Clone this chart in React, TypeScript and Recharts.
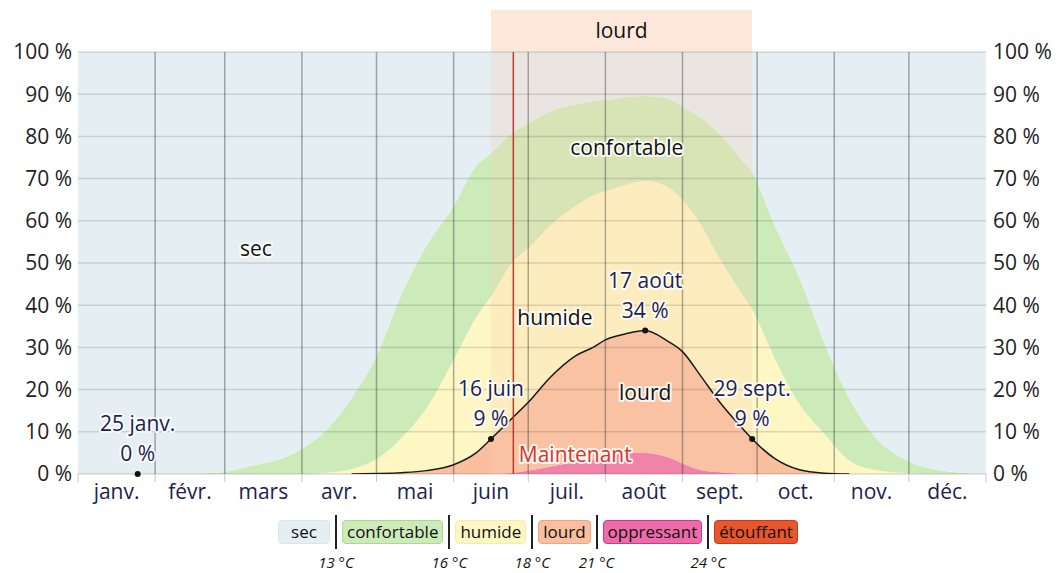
import React from "react";
import {
  ComposedChart,
  Area,
  Line,
  XAxis,
  YAxis,
  ReferenceLine,
  ReferenceArea,
  ReferenceDot,
} from "recharts";

// day of year (0 = 1 janv.)
const days = [0, 15, 31, 45, 59, 70, 80, 90, 100, 110, 120, 130, 140, 151, 160, 166, 175, 181, 190, 200, 207, 212, 220, 228, 237, 243, 250, 258, 266, 271, 280, 290, 300, 310, 320, 334, 345, 365];

// cumulative upper edge of each band, in %
const oppressantTop = [0, 0, 0, 0, 0, 0, 0, 0, 0, 0, 0, 0, 0, 0, 0, 0, 0.3, 0.8, 1.8, 2.8, 3.5, 4, 5, 5, 4, 2.5, 1, 0.4, 0.1, 0, 0, 0, 0, 0, 0, 0, 0, 0];
const lourdTop = [0, 0, 0, 0, 0, 0, 0, 0, 0, 0, 0.1, 0.3, 0.8, 2.2, 5, 8.3, 13.5, 17, 23, 28, 30, 31.8, 33.2, 34, 31.5, 29, 23.5, 17, 11.5, 8.3, 3.7, 1, 0.2, 0, 0, 0, 0, 0];
const humideTop = [0, 0, 0, 0, 0, 0, 0, 0, 0.3, 1.2, 3.5, 8.5, 15.5, 27, 37, 42, 50.5, 53.5, 59, 63.5, 66, 67, 68.5, 69.5, 68, 65, 59.5, 51, 43.5, 39, 27.5, 16.5, 9.5, 3.2, 1, 0.2, 0, 0];
const confortableTop = [0, 0, 0, 0.1, 0.5, 2, 3.3, 6, 10.5, 18, 28, 42.5, 54, 63.5, 73, 76, 81, 83, 86, 87.5, 88.3, 88.6, 89.3, 89.6, 89, 87, 84.6, 80.5, 75, 71.5, 59, 46.5, 31, 18, 9, 3, 1, 0];

const monthNames = ["janv.", "févr.", "mars", "avr.", "mai", "juin", "juil.", "août", "sept.", "oct.", "nov.", "déc."];
const monthStarts = [0, 31, 59, 90, 120, 151, 181, 212, 243, 273, 304, 334, 365];
const percentTicks = [0, 10, 20, 30, 40, 50, 60, 70, 80, 90, 100];

const annotationDays = [24, 166, 228, 271];
const annotationValues = [0, 9, 34, 9];
const annotationDates = ["25 janv.", "16 juin", "17 août", "29 sept."];

const today = 175;
const seasonName = "lourd";

const legendNames = ["sec", "confortable", "humide", "lourd", "oppressant", "étouffant"];
const legendThresholds = ["13 °C", "16 °C", "18 °C", "21 °C", "24 °C"];

const COLORS: Record<string, string> = {
  sec: "#E5EEF2",
  confortable: "#CCEBB8",
  humide: "#FEF7C3",
  lourd: "#F9BF9F",
  oppressant: "#EE6BAA",
  étouffant: "#E9552D",
};
const LEGEND_BORDERS: Record<string, string> = {
  sec: "#DCE6EA",
  confortable: "#A9D993",
  humide: "#F4EDB0",
  lourd: "#EBA585",
  oppressant: "#C93A8C",
  étouffant: "#C23A1C",
};

const W = 1058;
const H = 573;
const PLOT_LEFT = 78;
const PLOT_RIGHT = 986;
const pxPerDay = (PLOT_RIGHT - PLOT_LEFT) / 365;
const FS = 21;

const data = days.map((day, i) => ({
  day,
  oppressant: oppressantTop[i],
  lourd: lourdTop[i] - oppressantTop[i],
  humide: humideTop[i] - lourdTop[i],
  confortable: confortableTop[i] - humideTop[i],
  sec: 100 - confortableTop[i],
  lourdLine:
    lourdTop[i] > 0 || lourdTop[i - 1] > 0 || lourdTop[i + 1] > 0 ? lourdTop[i] : null,
}));

const halo = {
  stroke: "#fff",
  strokeWidth: 4,
  strokeOpacity: 0.85,
  strokeLinejoin: "round" as const,
  paintOrder: "stroke" as const,
};

const MonthTick = (props: any) => {
  const { x, y, payload } = props;
  const i = monthStarts.indexOf(payload.value);
  if (i < 0 || i >= monthNames.length) return <g />;
  const half = ((monthStarts[i + 1] - monthStarts[i]) / 2) * pxPerDay;
  return (
    <text x={x + half} y={y} dy={15} textAnchor="middle" fontSize={FS} fill="#1f2150">
      {monthNames[i]}
    </text>
  );
};

const labelShape =
  (text: string, fill = "#111", anchor: "middle" | "start" = "middle") =>
  (p: any) => (
    <text
      x={p.cx}
      y={p.cy}
      textAnchor={anchor}
      dominantBaseline="central"
      fontSize={FS}
      fill={fill}
      {...halo}
    >
      {text}
    </text>
  );

const annotationShape = (date: string, value: number) => (p: any) => (
  <g>
    <text x={p.cx} y={p.cy - 51} textAnchor="middle" dominantBaseline="central" fontSize={FS} fill="#1b2150" {...halo}>
      {date}
    </text>
    <text x={p.cx} y={p.cy - 21} textAnchor="middle" dominantBaseline="central" fontSize={FS} fill="#1b2150" {...halo}>
      {`${value} %`}
    </text>
    <circle cx={p.cx} cy={p.cy} r={3} fill="#111" />
  </g>
);

function Legend() {
  return (
    <div
      style={{
        position: "absolute",
        left: 278,
        top: 515,
        display: "flex",
        alignItems: "center",
        fontSize: 17,
        color: "#111",
      }}
    >
      {legendNames.map((name, i) => (
        <React.Fragment key={name}>
          <div
            style={{
              height: 22,
              lineHeight: "22px",
              padding: "0 4px",
              minWidth: i === 0 ? 42 : undefined,
              textAlign: "center",
              background: COLORS[name],
              border: `1px solid ${LEGEND_BORDERS[name]}`,
              borderRadius: 4,
            }}
          >
            {name}
          </div>
          {i < legendThresholds.length && (
            <div style={{ position: "relative", width: 2, height: 34, background: "#222", margin: "0 5px" }}>
              <div
                style={{
                  position: "absolute",
                  top: 37,
                  left: 1,
                  transform: "translateX(-50%)",
                  whiteSpace: "nowrap",
                  fontSize: 15,
                  fontStyle: "italic",
                  color: "#111",
                }}
              >
                {legendThresholds[i]}
              </div>
            </div>
          )}
        </React.Fragment>
      ))}
    </div>
  );
}

export default function App() {
  return (
    <div
      style={{
        position: "absolute",
        left: 0,
        top: 0,
        width: W,
        height: H,
        background: "#fff",
        fontFamily: "'Open Sans', sans-serif",
      }}
    >
      <ComposedChart width={W} height={H} data={data} margin={{ top: 52, right: 0, bottom: 69, left: 0 }}>
        <XAxis
          dataKey="day"
          type="number"
          domain={[0, 365]}
          ticks={monthStarts}
          tick={<MonthTick />}
          tickSize={8}
          tickLine={{ stroke: "#c8c8c8" }}
          axisLine={false}
          height={30}
          allowDataOverflow
        />
        <YAxis
          yAxisId="left"
          orientation="left"
          domain={[0, 100]}
          ticks={percentTicks}
          tickFormatter={(v: number) => `${v} %`}
          width={PLOT_LEFT}
          axisLine={false}
          tickLine={false}
          tickSize={4}
          tick={{ fontSize: FS, fill: "#222" }}
          allowDataOverflow
        />
        <YAxis
          yAxisId="right"
          orientation="right"
          domain={[0, 100]}
          ticks={percentTicks}
          tickFormatter={(v: number) => `${v} %`}
          width={W - PLOT_RIGHT}
          axisLine={false}
          tickLine={false}
          tickSize={5}
          tick={{ fontSize: FS, fill: "#222", textAnchor: "start" }}
          allowDataOverflow
        />

        <Area yAxisId="left" type="monotone" dataKey="oppressant" stackId="h" stroke="none" fill={COLORS.oppressant} fillOpacity={1} isAnimationActive={false} activeDot={false} />
        <Area yAxisId="left" type="monotone" dataKey="lourd" stackId="h" stroke="none" fill={COLORS.lourd} fillOpacity={1} isAnimationActive={false} activeDot={false} />
        <Area yAxisId="left" type="monotone" dataKey="humide" stackId="h" stroke="none" fill={COLORS.humide} fillOpacity={1} isAnimationActive={false} activeDot={false} />
        <Area yAxisId="left" type="monotone" dataKey="confortable" stackId="h" stroke="none" fill={COLORS.confortable} fillOpacity={1} isAnimationActive={false} activeDot={false} />
        <Area yAxisId="left" type="monotone" dataKey="sec" stackId="h" stroke="none" fill={COLORS.sec} fillOpacity={1} isAnimationActive={false} activeDot={false} />
        <Line yAxisId="left" type="monotone" dataKey="lourdLine" stroke="#1a1a1a" strokeWidth={1.5} dot={false} activeDot={false} isAnimationActive={false} connectNulls={false} />

        {/* season band */}
        <ReferenceArea
          yAxisId="left"
          x1={annotationDays[1]}
          x2={annotationDays[3]}
          y1={0}
          y2={100}
          fill="rgb(250,205,175)"
          fillOpacity={0.25}
          stroke="none"
        />
        <ReferenceArea
          yAxisId="left"
          x1={annotationDays[1]}
          x2={annotationDays[3]}
          y1={100}
          y2={110}
          ifOverflow="visible"
          fill="#FDE8DB"
          fillOpacity={1}
          stroke="none"
          label={{ value: seasonName, position: "center", fontSize: FS, fill: "#111" }}
        />

        {/* grid drawn above the bands */}
        {percentTicks.map((v) => (
          <ReferenceLine key={`h${v}`} yAxisId="left" y={v} stroke="rgba(40,50,55,0.16)" strokeWidth={1.5} />
        ))}
        {monthStarts.slice(1, -1).map((d) => (
          <ReferenceLine key={`v${d}`} yAxisId="left" x={d} stroke="rgba(40,45,50,0.38)" strokeWidth={1.5} />
        ))}
        <ReferenceLine yAxisId="left" x={today} stroke="#C0392B" strokeWidth={1.5} />

        <ReferenceDot yAxisId="left" x={71.5} y={53.5} r={0} shape={labelShape("sec")} />
        <ReferenceDot yAxisId="left" x={220.6} y={77.5} r={0} shape={labelShape("confortable")} />
        <ReferenceDot yAxisId="left" x={191.7} y={37.2} r={0} shape={labelShape("humide")} />
        <ReferenceDot yAxisId="left" x={228} y={19.4} r={0} shape={labelShape("lourd")} />
        <ReferenceDot yAxisId="left" x={today + 2.2} y={4.7} r={0} shape={labelShape("Maintenant", "#D0392B", "start")} />

        {annotationDays.map((d, i) => (
          <ReferenceDot
            key={`a${d}`}
            yAxisId="left"
            x={d}
            y={lourdTop[days.indexOf(d)] ?? annotationValues[i]}
            r={3}
            shape={annotationShape(annotationDates[i], annotationValues[i])}
          />
        ))}
      </ComposedChart>
      <Legend />
    </div>
  );
}
